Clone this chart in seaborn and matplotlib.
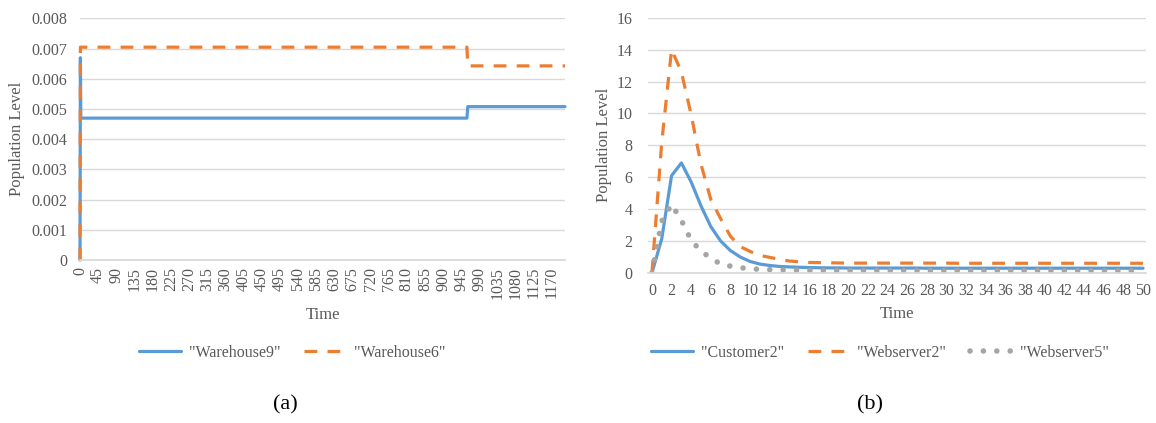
import seaborn as sns
import matplotlib.pyplot as plt
import pandas as pd

# (a) warehouse series: values at the times where they change
warehouse_time = [0, 1, 2, 959, 961, 1202]
warehouse9 = [0, 0.0067, 0.0047, 0.0047, 0.00508, 0.00508]
warehouse6 = [0, 0.00705, 0.00705, 0.00705, 0.00643, 0.00643]
warehouse_ticks = list(range(0, 1171, 45))

# (b) customer / webserver series, one value per time unit 0..50
web_time = list(range(0, 51))
customer2 = [0, 2.15, 6.1, 6.9, 5.7, 4.2, 2.9, 2.0, 1.4, 1.0,
             0.72, 0.56, 0.47, 0.41, 0.38, 0.36, 0.34, 0.33, 0.32, 0.32,
             0.31, 0.31, 0.31, 0.31, 0.31, 0.31, 0.31, 0.31, 0.30, 0.30,
             0.30, 0.30, 0.30, 0.30, 0.30, 0.30, 0.30, 0.30, 0.30, 0.30,
             0.30, 0.30, 0.30, 0.30, 0.30, 0.30, 0.30, 0.30, 0.30, 0.30, 0.30]
webserver2 = [0, 8.2, 14.0, 12.6, 9.9, 6.8, 4.6, 3.4, 2.3, 1.65,
              1.35, 1.1, 0.98, 0.85, 0.75, 0.70, 0.66, 0.65, 0.64, 0.63,
              0.62, 0.62, 0.62, 0.62, 0.62, 0.62, 0.62, 0.62, 0.62, 0.62,
              0.62, 0.61, 0.61, 0.61, 0.61, 0.61, 0.61, 0.61, 0.61, 0.61,
              0.61, 0.61, 0.61, 0.61, 0.61, 0.61, 0.61, 0.61, 0.61, 0.61, 0.61]
webserver5 = [0, 3.25, 4.3, 3.3, 2.04, 1.37, 0.93, 0.56, 0.43, 0.33,
              0.27, 0.23, 0.21, 0.19, 0.18, 0.17, 0.16, 0.16, 0.15, 0.15,
              0.15, 0.15, 0.15, 0.15, 0.15, 0.15, 0.15, 0.15, 0.15, 0.15,
              0.15, 0.15, 0.15, 0.15, 0.15, 0.15, 0.15, 0.15, 0.15, 0.15,
              0.15, 0.15, 0.15, 0.15, 0.14, 0.14, 0.14, 0.14, 0.14, 0.14, 0.14]

BLUE, ORANGE, GRAY = '#5B9BD5', '#ED7D31', '#A5A5A5'
TXT = '#595959'

sns.set_theme(style='whitegrid')
plt.rcParams['font.family'] = ['Liberation Serif', 'DejaVu Serif']
plt.rcParams.update({'grid.color': '#D9D9D9', 'grid.linewidth': 1.0,
                     'axes.edgecolor': '#D9D9D9', 'text.color': TXT,
                     'xtick.color': TXT, 'ytick.color': TXT,
                     'axes.labelcolor': TXT})

W, H = 1156, 423
fig = plt.figure(figsize=(W / 100, H / 100), dpi=100)

def box(x0, x1, top, bottom):
    return [x0 / W, 1 - bottom / H, (x1 - x0) / W, (bottom - top) / H]

dash = (0, (4, 3.2))
dots = (0, (0.01, 2.4))
TICK, LAB, LEG = 11.5, 12, 11.5

# ---- (a)
ax1 = fig.add_axes(box(80, 565, 18.5, 260))
wa = pd.DataFrame({'t': warehouse_time, 'w9': warehouse9, 'w6': warehouse6})
sns.lineplot(data=wa, x='t', y='w9', ax=ax1, color=BLUE, lw=2.3,
             label='"Warehouse9"', clip_on=False)
sns.lineplot(data=wa, x='t', y='w6', ax=ax1, color=ORANGE, lw=2.3,
             linestyle=dash, label='"Warehouse6"', clip_on=False)
ax1.set_xlim(0, 1202)
ax1.set_ylim(0, 0.008)
ax1.set_yticks([i / 1000 for i in range(9)])
ax1.set_yticklabels(['0'] + ['%.3f' % (i / 1000) for i in range(1, 9)])
ax1.set_xticks(warehouse_ticks)
ax1.set_xticklabels([str(t) for t in warehouse_ticks], rotation=90)
ax1.xaxis.grid(False)
ax1.tick_params(axis='y', labelsize=TICK, pad=9, length=0)
ax1.tick_params(axis='x', labelsize=TICK, pad=5, length=0)
ax1.set_xlabel('Time', fontsize=LAB)
ax1.set_ylabel('Population Level', fontsize=LAB)
ax1.xaxis.set_label_coords(0.5, -(307 - 260) / 241.5)
ax1.yaxis.set_label_coords((25 - 80) / 485, 0.5)
for s in ['top', 'right', 'left']:
    ax1.spines[s].set_visible(False)
ax1.legend_.remove()
h1, l1 = ax1.get_legend_handles_labels()
fig.legend(h1, l1, loc='center', bbox_to_anchor=(292 / W, 1 - 353 / H),
           ncol=2, frameon=False, fontsize=LEG, handlelength=2.6,
           handletextpad=0.5, columnspacing=1.5)

# ---- (b)
ax2 = fig.add_axes(box(648, 1146, 17.7, 273))
wb = pd.DataFrame({'t': web_time, 'c2': customer2,
                   'w2': webserver2, 'w5': webserver5})
sns.lineplot(data=wb, x='t', y='c2', ax=ax2, color=BLUE, lw=2.3,
             label='"Customer2"')
sns.lineplot(data=wb, x='t', y='w2', ax=ax2, color=ORANGE, lw=2.3,
             linestyle=dash, label='"Webserver2"')
sns.lineplot(data=wb, x='t', y='w5', ax=ax2, color=GRAY, lw=4.0,
             linestyle=dots, dash_capstyle='round', label='"Webserver5"')
ax2.set_xlim(-0.4, 50.3)
ax2.set_ylim(0, 16)
ax2.set_yticks(range(0, 17, 2))
ax2.set_xticks(range(0, 51, 2))
ax2.xaxis.grid(False)
ax2.tick_params(axis='y', labelsize=TICK, pad=11, length=0)
ax2.tick_params(axis='x', labelsize=TICK, pad=7, length=0)
ax2.set_xlabel('Time', fontsize=LAB)
ax2.set_ylabel('Population Level', fontsize=LAB)
ax2.xaxis.set_label_coords(0.5, -(306 - 273) / 255.3)
ax2.yaxis.set_label_coords((612 - 648) / 498, 0.5)
for s in ['top', 'right', 'left']:
    ax2.spines[s].set_visible(False)
ax2.legend_.remove()
h2, l2 = ax2.get_legend_handles_labels()
fig.legend(h2, l2, loc='center', bbox_to_anchor=(880 / W, 1 - 353 / H),
           ncol=3, frameon=False, fontsize=LEG, handlelength=2.6,
           handletextpad=0.5, columnspacing=1.5)

fig.text(285 / W, 1 - 405 / H, '(a)', ha='center', va='center',
         fontsize=16, color='black')
fig.text(870 / W, 1 - 405 / H, '(b)', ha='center', va='center',
         fontsize=16, color='black')

fig.savefig('out.png', dpi=100)
